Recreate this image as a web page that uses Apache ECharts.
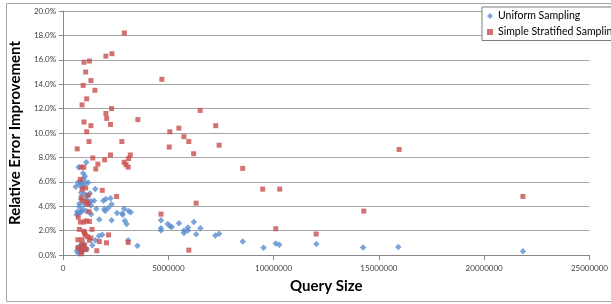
<!DOCTYPE html>
<html>
<head>
<meta charset="utf-8">
<script src="https://cdn.jsdelivr.net/npm/echarts@6/dist/echarts.min.js"></script>
<style>
html,body{margin:0;padding:0;background:#fff;}
#c{width:611px;height:304px;}
</style>
</head>
<body>
<div id="c"></div>
<script>
// Query sizes (x) and relative error improvement in percent (y)
const uniformX = [600000,670000,700000,740000,770000,770000,790000,860000,860000,880000,910000,950000,980000,1040000,1070000,1100000,1020000,1100000,1130000,1190000,1270000,1320000,1320000,1330000,650000,700000,820000,930000,840000,930000,1020000,1120000,1210000,
  720000,790000,840000,880000,650000,930000,980000,1120000,740000,
  1390000,1470000,1530000,1580000,1700000,1720000,1530000,1860000,1910000,1950000,2000000,2030000,2140000,2250000,2300000,2300000,2560000,2810000,2830000,2900000,2930000,3020000,3090000,3110000,3210000,3530000,
  4650000,4650000,4650000,4970000,5080000,5160000,5500000,5740000,5740000,5930000,5930000,6210000,6320000,6520000,7230000,7410000,8530000,9520000,10100000,10270000,12030000,14250000,15920000,21840000];
const uniformY = [5.6,3.55,5.95,7.2,4.2,3.95,5.75,5.1,4.6,3.55,5.55,6.7,6.25,6.45,5.9,7.6,4.15,3.6,4.5,5.95,5.05,4.4,4.05,3.35,3.3,3.4,3.5,3.75,6.0,5.8,5.0,4.8,4.3,
  0.6,0.4,0.8,0.55,0.3,0.3,0.9,0.5,0.15,
  0.8,4.45,5.4,3.8,1.55,2.9,1.2,1.65,4.45,3.75,3.6,4.6,3.85,4.65,4.15,2.85,3.45,3.4,3.3,3.8,2.8,2.55,1.2,3.6,3.5,0.75,
  2.85,2.2,2.0,2.55,2.35,2.3,2.6,2.0,1.8,2.25,2.0,2.7,1.7,2.2,1.6,1.75,1.1,0.6,0.95,0.85,0.9,0.62,0.65,0.3];

const stratX = [2910000,2320000,2030000,1250000,990000,1070000,1320000,950000,1510000,1120000,900000,2300000,2030000,2070000,3550000,990000,2250000,1320000,1120000,2790000,1230000,670000,2250000,3190000,1410000,3110000,1970000,2900000,1650000,2990000,860000,980000,3090000,1550000,820000,1860000,900000,1070000,1190000,2540000,860000,930000,1120000,1180000,1230000,720000,820000,980000,1250000,1100000,770000,1370000,980000,1020000,1050000,2160000,1160000,1320000,700000,900000,1250000,1720000,2060000,3090000,880000,1020000,700000,960000,820000,1090000,1600000,880000,860000,
  4690000,6510000,7250000,5070000,5500000,5740000,5970000,5040000,7410000,6200000,8530000,9480000,10290000,6320000,4650000,14280000,10100000,12020000,5970000,15960000,21840000];
const stratY = [18.2,16.5,16.3,15.9,15.8,15.0,14.3,13.9,13.5,12.8,12.3,12.0,11.6,11.2,11.1,10.9,10.7,10.6,10.1,9.3,9.3,8.7,8.2,8.2,7.95,7.9,7.8,7.6,7.45,7.4,7.2,7.2,7.2,7.05,6.2,5.3,5.4,5.5,4.9,4.8,4.7,4.45,4.35,4.15,3.55,3.1,2.7,2.7,2.75,2.8,2.1,2.1,1.95,1.8,1.65,1.65,1.5,1.4,1.25,1.25,1.2,1.1,1.0,1.03,0.85,0.8,0.6,0.57,0.5,0.45,0.35,0.27,0.1,
  14.4,11.85,10.6,10.1,10.4,9.7,9.3,8.85,9.0,8.3,7.1,5.4,5.4,4.25,3.35,3.6,2.15,1.72,0.4,8.65,4.8];

const seriesNames = ['Uniform Sampling', 'Simple Stratified Sampling'];
const xTitle = 'Query Size';
const yTitle = 'Relative Error Improvement';

const pair = (xs, ys) => xs.map((x, i) => [x, ys[i]]);
const FONT = 'Lato';

const chart = echarts.init(document.getElementById('c'), null, {renderer: 'canvas'});
chart.setOption({
  backgroundColor: '#fff',
  animation: false,
  textStyle: {fontFamily: FONT},
  graphic: [{
    type: 'rect', silent: true, z: -1,
    shape: {x: 6.5, y: 3.5, width: 700, height: 298},
    style: {fill: 'none', stroke: '#a6a6a6', lineWidth: 1}
  }],
  grid: {left: 59, right: 14, top: 11, bottom: 49},
  legend: {
    orient: 'vertical',
    left: 482, top: 7,
    itemWidth: 6, itemHeight: 6, itemGap: 5,
    padding: [3.5, 5, 3, 5],
    borderColor: '#7f7f7f', borderWidth: 1,
    backgroundColor: '#fff',
    textStyle: {fontFamily: FONT, fontSize: 10.5, color: '#000'},
    data: seriesNames
  },
  xAxis: {
    type: 'value', min: 0, max: 25000000, interval: 5000000,
    name: xTitle, nameLocation: 'middle', nameGap: 24,
    nameTextStyle: {fontFamily: FONT, fontSize: 15, fontWeight: 'bold', color: '#000'},
    axisLine: {show: true, lineStyle: {color: '#888', width: 1}},
    axisTick: {show: true, length: 5, lineStyle: {color: '#888'}},
    axisLabel: {margin: 9, fontSize: 8, color: '#404040', formatter: v => String(v)},
    splitLine: {show: false}
  },
  yAxis: {
    type: 'value', min: 0, max: 20, interval: 2,
    name: yTitle, nameLocation: 'middle', nameGap: 27,
    nameTextStyle: {fontFamily: FONT, fontSize: 15, fontWeight: 'bold', color: '#000'},
    axisLine: {show: true, lineStyle: {color: '#888', width: 1}},
    axisTick: {show: true, length: 4, lineStyle: {color: '#888'}},
    axisLabel: {margin: 7, fontSize: 8, color: '#404040', formatter: v => v.toFixed(1) + '%'},
    splitLine: {show: true, lineStyle: {color: '#a6a6a6', width: 1}}
  },
  series: [
    {
      name: seriesNames[0], type: 'scatter', symbol: 'diamond', symbolSize: 6.5,
      itemStyle: {color: '#5b8fd0'},
      data: pair(uniformX, uniformY)
    },
    {
      name: seriesNames[1], type: 'scatter', symbol: 'rect', symbolSize: 5,
      itemStyle: {color: '#c8504d'},
      data: pair(stratX, stratY)
    }
  ]
});
</script>
</body>
</html>
